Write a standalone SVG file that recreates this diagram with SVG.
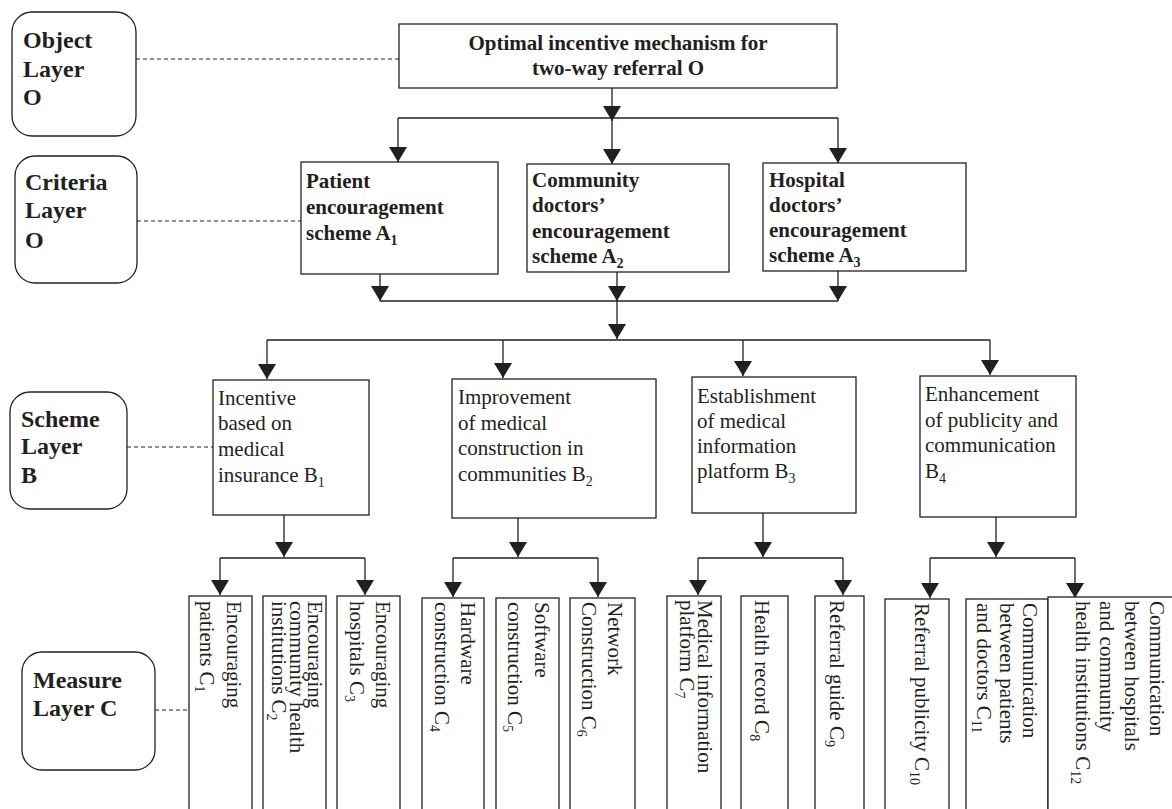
<svg xmlns="http://www.w3.org/2000/svg" width="1172" height="809" viewBox="0 0 1172 809">
<style>
text{font-family:"Liberation Serif","Times New Roman",serif;fill:#231f20;}
.lb{font-size:24px;font-weight:bold;}
.bb{font-size:21px;font-weight:bold;}
.r{font-size:21px;}
.box{fill:#fff;stroke:#231f20;stroke-width:1.3;}
.lay{fill:#fff;stroke:#231f20;stroke-width:1.3;}
.con{fill:none;stroke:#231f20;stroke-width:1.3;}
.dash{fill:none;stroke:#231f20;stroke-width:1.1;stroke-dasharray:4 3;}
.s{font-size:14px;}
</style>
<defs>
<marker id="ah" viewBox="0 -9 15 18" markerWidth="15" markerHeight="18" refX="15" refY="0" markerUnits="userSpaceOnUse" orient="auto">
<path d="M0,-9 L15,0 L0,9 z" fill="#231f20"/>
</marker>
</defs>
<rect width="1172" height="809" fill="#fff"/>

<g id="connectors">
<line class="dash" x1="136" y1="59" x2="399" y2="59"/>
<line class="dash" x1="137" y1="221" x2="301" y2="221"/>
<line class="dash" x1="127" y1="447" x2="213" y2="447"/>
<line class="dash" x1="155" y1="710" x2="189" y2="710"/>

<line class="con" x1="612" y1="88" x2="612" y2="121" marker-end="url(#ah)"/>
<line class="con" x1="398" y1="118" x2="838" y2="118"/>
<line class="con" x1="398" y1="118" x2="398" y2="162" marker-end="url(#ah)"/>
<line class="con" x1="612" y1="118" x2="612" y2="164" marker-end="url(#ah)"/>
<line class="con" x1="838" y1="118" x2="838" y2="163" marker-end="url(#ah)"/>

<line class="con" x1="380" y1="274" x2="380" y2="301" marker-end="url(#ah)"/>
<line class="con" x1="617" y1="272" x2="617" y2="301" marker-end="url(#ah)"/>
<line class="con" x1="838" y1="271" x2="838" y2="301" marker-end="url(#ah)"/>
<line class="con" x1="380" y1="301" x2="838" y2="301"/>

<line class="con" x1="617" y1="301" x2="617" y2="339" marker-end="url(#ah)"/>
<line class="con" x1="267" y1="340" x2="990" y2="340"/>
<line class="con" x1="267" y1="340" x2="267" y2="379" marker-end="url(#ah)"/>
<line class="con" x1="503" y1="340" x2="503" y2="378" marker-end="url(#ah)"/>
<line class="con" x1="743" y1="340" x2="743" y2="376" marker-end="url(#ah)"/>
<line class="con" x1="990" y1="340" x2="990" y2="375" marker-end="url(#ah)"/>

<line class="con" x1="284" y1="515" x2="284" y2="557" marker-end="url(#ah)"/>
<line class="con" x1="220" y1="558" x2="365" y2="558"/>
<line class="con" x1="220" y1="558" x2="220" y2="595" marker-end="url(#ah)"/>
<line class="con" x1="365" y1="558" x2="365" y2="595" marker-end="url(#ah)"/>

<line class="con" x1="518" y1="518" x2="518" y2="557" marker-end="url(#ah)"/>
<line class="con" x1="453" y1="558" x2="598" y2="558"/>
<line class="con" x1="453" y1="558" x2="453" y2="597" marker-end="url(#ah)"/>
<line class="con" x1="598" y1="558" x2="598" y2="597" marker-end="url(#ah)"/>

<line class="con" x1="763" y1="513" x2="763" y2="557" marker-end="url(#ah)"/>
<line class="con" x1="698" y1="558" x2="843" y2="558"/>
<line class="con" x1="698" y1="558" x2="698" y2="595" marker-end="url(#ah)"/>
<line class="con" x1="843" y1="558" x2="843" y2="595" marker-end="url(#ah)"/>

<line class="con" x1="996" y1="517" x2="996" y2="557" marker-end="url(#ah)"/>
<line class="con" x1="930" y1="558" x2="1075" y2="558"/>
<line class="con" x1="930" y1="558" x2="930" y2="598" marker-end="url(#ah)"/>
<line class="con" x1="1075" y1="558" x2="1075" y2="598" marker-end="url(#ah)"/>
</g>

<g id="layer-object">
<rect class="lay" x="12" y="12" width="124" height="124" rx="20"/>
<text class="lb" x="23" y="48">Object</text>
<text class="lb" x="23" y="77">Layer</text>
<text class="lb" x="23" y="105">O</text>
</g>
<g id="layer-criteria">
<rect class="lay" x="15" y="156" width="122" height="127" rx="20"/>
<text class="lb" x="25" y="190">Criteria</text>
<text class="lb" x="25" y="218">Layer</text>
<text class="lb" x="25" y="248">O</text>
</g>
<g id="layer-scheme">
<rect class="lay" x="10" y="392" width="117" height="117" rx="20"/>
<text class="lb" x="21" y="427">Scheme</text>
<text class="lb" x="21" y="454">Layer</text>
<text class="lb" x="21" y="483">B</text>
</g>
<g id="layer-measure">
<rect class="lay" x="22" y="652" width="133" height="118" rx="20"/>
<text class="lb" x="33" y="688">Measure</text>
<text class="lb" x="33" y="716">Layer C</text>
</g>

<g id="O">
<rect class="box" x="399" y="24" width="438" height="64"/>
<text class="bb" x="618" y="50" text-anchor="middle">Optimal incentive mechanism for</text>
<text class="bb" x="618" y="75" text-anchor="middle">two-way referral O</text>
</g>

<g id="A1">
<rect class="box" x="301" y="162" width="197" height="112"/>
<text class="bb" x="306" y="188">Patient</text>
<text class="bb" x="306" y="214">encouragement</text>
<text class="bb" x="306" y="240">scheme A<tspan class="s" dy="5">1</tspan></text>
</g>
<g id="A2">
<rect class="box" x="527" y="164" width="202" height="108"/>
<text class="bb" x="532" y="187">Community</text>
<text class="bb" x="532" y="212">doctors’</text>
<text class="bb" x="532" y="238">encouragement</text>
<text class="bb" x="532" y="263">scheme A<tspan class="s" dy="5">2</tspan></text>
</g>
<g id="A3">
<rect class="box" x="763" y="163" width="203" height="108"/>
<text class="bb" x="769" y="187">Hospital</text>
<text class="bb" x="769" y="212">doctors’</text>
<text class="bb" x="769" y="237">encouragement</text>
<text class="bb" x="769" y="262">scheme A<tspan class="s" dy="5">3</tspan></text>
</g>

<g id="B1">
<rect class="box" x="213" y="380" width="156" height="135"/>
<text class="r" x="218" y="405">Incentive</text>
<text class="r" x="218" y="430">based on</text>
<text class="r" x="218" y="456">medical</text>
<text class="r" x="218" y="482">insurance B<tspan class="s" dy="5">1</tspan></text>
</g>
<g id="B2">
<rect class="box" x="452" y="379" width="204" height="139"/>
<text class="r" x="458" y="404">Improvement</text>
<text class="r" x="458" y="430">of medical</text>
<text class="r" x="458" y="455">construction in</text>
<text class="r" x="458" y="481">communities B<tspan class="s" dy="5">2</tspan></text>
</g>
<g id="B3">
<rect class="box" x="692" y="377" width="164" height="136"/>
<text class="r" x="697" y="403">Establishment</text>
<text class="r" x="697" y="428">of medical</text>
<text class="r" x="697" y="453">information</text>
<text class="r" x="697" y="478">platform B<tspan class="s" dy="5">3</tspan></text>
</g>
<g id="B4">
<rect class="box" x="920" y="376" width="156" height="141"/>
<text class="r" x="925" y="401">Enhancement</text>
<text class="r" x="925" y="427">of publicity and</text>
<text class="r" x="925" y="452">communication</text>
<text class="r" x="925" y="478">B<tspan class="s" dy="5">4</tspan></text>
</g>

<g id="C1">
<rect class="box" x="189" y="596" width="63" height="230"/>
<text class="r" transform="translate(227,601) rotate(90)"><tspan x="0" y="0">Encouraging</tspan><tspan x="0" y="27">patients C<tspan class="s" dy="5">1</tspan></tspan></text>
</g>
<g id="C2">
<rect class="box" x="263" y="596" width="63" height="230"/>
<text class="r" transform="translate(308,601) rotate(90)"><tspan x="0" y="0">Encouraging</tspan><tspan x="0" y="18">community health</tspan><tspan x="0" y="36">institutions C<tspan class="s" dy="5">2</tspan></tspan></text>
</g>
<g id="C3">
<rect class="box" x="337" y="596" width="63" height="230"/>
<text class="r" transform="translate(376,601) rotate(90)"><tspan x="0" y="0">Encouraging</tspan><tspan x="0" y="26">hospitals C<tspan class="s" dy="5">3</tspan></tspan></text>
</g>
<g id="C4">
<rect class="box" x="422" y="598" width="62" height="230"/>
<text class="r" transform="translate(461,602) rotate(90)"><tspan x="0" y="0">Hardware</tspan><tspan x="0" y="26">construction C<tspan class="s" dy="5">4</tspan></tspan></text>
</g>
<g id="C5">
<rect class="box" x="496" y="598" width="63" height="230"/>
<text class="r" transform="translate(535,602) rotate(90)"><tspan x="0" y="0">Software</tspan><tspan x="0" y="27">construction C<tspan class="s" dy="5">5</tspan></tspan></text>
</g>
<g id="C6">
<rect class="box" x="570" y="598" width="65" height="230"/>
<text class="r" transform="translate(608,602) rotate(90)"><tspan x="0" y="0">Network</tspan><tspan x="0" y="26">Construction C<tspan class="s" dy="5">6</tspan></tspan></text>
</g>
<g id="C7">
<rect class="box" x="667" y="596" width="54" height="230"/>
<text class="r" transform="translate(698,600) rotate(90)"><tspan x="0" y="0">Medical information</tspan><tspan x="0" y="18">platform C<tspan class="s" dy="5">7</tspan></tspan></text>
</g>
<g id="C8">
<rect class="box" x="741" y="596" width="47" height="230"/>
<text class="r" transform="translate(755,600) rotate(90)">Health record C<tspan class="s" dy="5">8</tspan></text>
</g>
<g id="C9">
<rect class="box" x="815" y="596" width="49" height="230"/>
<text class="r" transform="translate(830,600) rotate(90)">Referral guide C<tspan class="s" dy="5">9</tspan></text>
</g>
<g id="C10">
<rect class="box" x="885" y="599" width="64" height="230"/>
<text class="r" transform="translate(915,603) rotate(90)">Referral publicity C<tspan class="s" dy="5">10</tspan></text>
</g>
<g id="C11">
<rect class="box" x="966" y="599" width="82" height="230"/>
<text class="r" transform="translate(1023,603) rotate(90)"><tspan x="0" y="0">Communication</tspan><tspan x="0" y="23">between patients</tspan><tspan x="0" y="46">and doctors C<tspan class="s" dy="5">11</tspan></tspan></text>
</g>
<g id="C12">
<rect class="box" x="1048" y="597" width="140" height="230"/>
<text class="r" transform="translate(1150,601) rotate(90)"><tspan x="0" y="0">Communication</tspan><tspan x="0" y="25">between hospitals</tspan><tspan x="0" y="50">and community</tspan><tspan x="0" y="74">health institutions C<tspan class="s" dy="5">12</tspan></tspan></text>
</g>
</svg>
